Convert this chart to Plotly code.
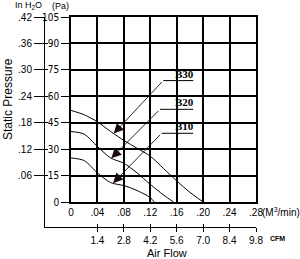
import numpy as np
import plotly.graph_objects as go

# ---- data ----
b30_q = [0, 0.02, 0.04, 0.06, 0.08, 0.10, 0.12, 0.14, 0.16, 0.18, 0.20]
b30_p = [52, 49.5, 45.5, 40, 35, 30.5, 26, 19, 12, 5.5, 0]
b20_q = [0, 0.02, 0.04, 0.06, 0.08, 0.10, 0.12, 0.14, 0.155]
b20_p = [40, 38.5, 31.5, 25, 22, 16.5, 10, 4, 0]
b10_q = [0, 0.02, 0.04, 0.06, 0.08, 0.10, 0.12, 0.126]
b10_p = [25, 23.5, 16.5, 11, 9.3, 6.5, 2.5, 0]

series_names = ["B30", "B20", "B10"]
tip_q = [0.0646, 0.061, 0.0636]
tail_q = [0.1396, 0.1347, 0.1372]
tail_p = [68.9, 52.6, 39.0]
underline_end_q = 0.185
label_q = 0.1718

flow_ticks = [0, 0.04, 0.08, 0.12, 0.16, 0.20, 0.24, 0.28]
flow_text = ["0", ".04", ".08", ".12", ".16", ".20", ".24", ".28"]
pa_ticks = [0, 15, 30, 45, 60, 75, 90, 105]
inch_ticks = [0.06, 0.12, 0.18, 0.24, 0.30, 0.36, 0.42]
inch_text = [".06", ".12", ".18", ".24", ".30", ".36", ".42"]
cfm_ticks = [1.4, 2.8, 4.2, 5.6, 7.0, 8.4, 9.8]
cfm_text = ["1.4", "2.8", "4.2", "5.6", "7.0", "8.4", "9.8"]

W, H = 300, 259
FONT = "Liberation Sans"
NARROW = "Liberation Sans Narrow, DejaVu Sans Condensed, Liberation Sans"
num_font = dict(family=FONT, size=10, color="black")
pa_font = dict(family=NARROW, size=10, color="black")

fig = go.Figure()
curves = [(b30_q, b30_p), (b20_q, b20_p), (b10_q, b10_p)]
for (q, p) in curves:
    fig.add_trace(go.Scatter(x=q, y=p, mode="lines",
                             line=dict(color="black", width=1, shape="spline", smoothing=0.8),
                             showlegend=False, hoverinfo="skip"))

# underlines of labels
for i, name in enumerate(series_names):
    fig.add_trace(go.Scatter(x=[tail_q[i], underline_end_q], y=[tail_p[i], tail_p[i]],
                             mode="lines", line=dict(color="black", width=1),
                             showlegend=False, hoverinfo="skip"))

# invisible traces to activate secondary axes
fig.add_trace(go.Scatter(x=[None], y=[None], xaxis="x2", yaxis="y2", showlegend=False))
fig.add_trace(go.Scatter(x=[None], y=[None], xaxis="x3", yaxis="y3", showlegend=False))

annotations = []
for i, name in enumerate(series_names):
    q, p = curves[i]
    tp = float(np.interp(tip_q[i], q, p))
    annotations.append(dict(x=tip_q[i], y=tp, xref="x", yref="y",
                            ax=tail_q[i], ay=tail_p[i], axref="x", ayref="y",
                            text="", showarrow=True, arrowhead=2, arrowsize=2.2,
                            arrowwidth=0.9, arrowcolor="#1a0a0a"))
    annotations.append(dict(x=label_q, y=tail_p[i], xref="x", yref="y",
                            text="<b>" + name + "</b>", showarrow=False,
                            xanchor="center", yanchor="bottom", yshift=-1,
                            font=dict(family="Liberation Serif", size=11, color="black")))

def pap(px, py, text, size, **kw):
    d = dict(x=px / W, y=1 - py / H, xref="paper", yref="paper", text=text,
             showarrow=False, xanchor="center", yanchor="middle",
             font=dict(family=FONT, size=size, color="black"))
    d.update(kw)
    return d

annotations += [
    pap(28, 6, "In H<sub>2</sub>O", 9),
    pap(60, 6, "(Pa)", 9),
    pap(8, 99, "Static Pressure", 12, textangle=-90),
    pap(167, 253, "Air Flow", 11),
    pap(260, 212, "(M<sup>3</sup>/min)", 10, xanchor="left"),
    pap(277, 238, "<b>CFM</b>", 7),
]

x_dom = [71 / W, 256 / W]
y_dom = [1 - 202 / H, 1 - 17 / H]
sec_x_dom = [44 / W, 256 / W]
sec_y_dom = [1 - 227 / H, 1 - 17 / H]
# secondary ranges scaled so that 0 aligns with the main plot origin
cfm_per_px = 1.4 / (185 / 7)
cfm_range = [-(71 - 44) * cfm_per_px, 9.8]
inch_per_px = 0.42 / 185
inch_range = [-(227 - 202) * inch_per_px, 0.42]

common = dict(automargin=False, fixedrange=True)
fig.update_layout(
    width=W, height=H, autosize=False,
    margin=dict(l=0, r=0, t=0, b=0, pad=0, autoexpand=False),
    paper_bgcolor="white", plot_bgcolor="rgba(0,0,0,0)",
    showlegend=False,
    annotations=annotations,
    xaxis=dict(domain=x_dom, range=[0, 0.28], tickvals=flow_ticks, ticktext=flow_text,
               showgrid=True, gridcolor="black", gridwidth=1.5, zeroline=False,
               showline=True, linecolor="black", linewidth=1.5, mirror=True,
               ticks="", tickfont=num_font, anchor="y", **common),
    yaxis=dict(domain=y_dom, range=[0, 105], tickvals=pa_ticks,
               showgrid=True, gridcolor="black", gridwidth=1.5, zeroline=False,
               showline=True, linecolor="black", linewidth=1.5, mirror=True,
               ticks="outside", ticklen=8, tickcolor="black", tickwidth=1,
               ticklabelstandoff=0,
               tickfont=pa_font, anchor="x", **common),
    xaxis2=dict(domain=sec_x_dom, range=cfm_range, tickvals=cfm_ticks, ticktext=cfm_text,
                anchor="free", position=1 - 227 / H, side="bottom",
                showgrid=False, zeroline=False, showline=True, linecolor="black", linewidth=1,
                ticks="outside", ticklen=4, tickcolor="black", tickwidth=1,
                tickfont=num_font, **common),
    yaxis2=dict(domain=sec_y_dom, range=inch_range, tickvals=inch_ticks, ticktext=inch_text,
                anchor="free", position=44 / W, side="left",
                showgrid=False, zeroline=False, showline=True, linecolor="black", linewidth=1,
                ticks="outside", ticklen=10, tickcolor="black", tickwidth=1,
                tickfont=num_font, **common),
    xaxis3=dict(domain=sec_x_dom, range=cfm_range, tickvals=cfm_ticks,
                anchor="free", position=1 - 227 / H, side="bottom",
                showgrid=False, zeroline=False, showline=False, showticklabels=False,
                ticks="inside", ticklen=3, tickcolor="black", tickwidth=1, **common),
    yaxis3=dict(domain=sec_y_dom, range=inch_range, tickvals=inch_ticks,
                anchor="free", position=44 / W, side="left",
                showgrid=False, zeroline=False, showline=False, showticklabels=False,
                ticks="inside", ticklen=3, tickcolor="black", tickwidth=1, **common),
)

fig.write_html("out.html", config={"displayModeBar": False})
